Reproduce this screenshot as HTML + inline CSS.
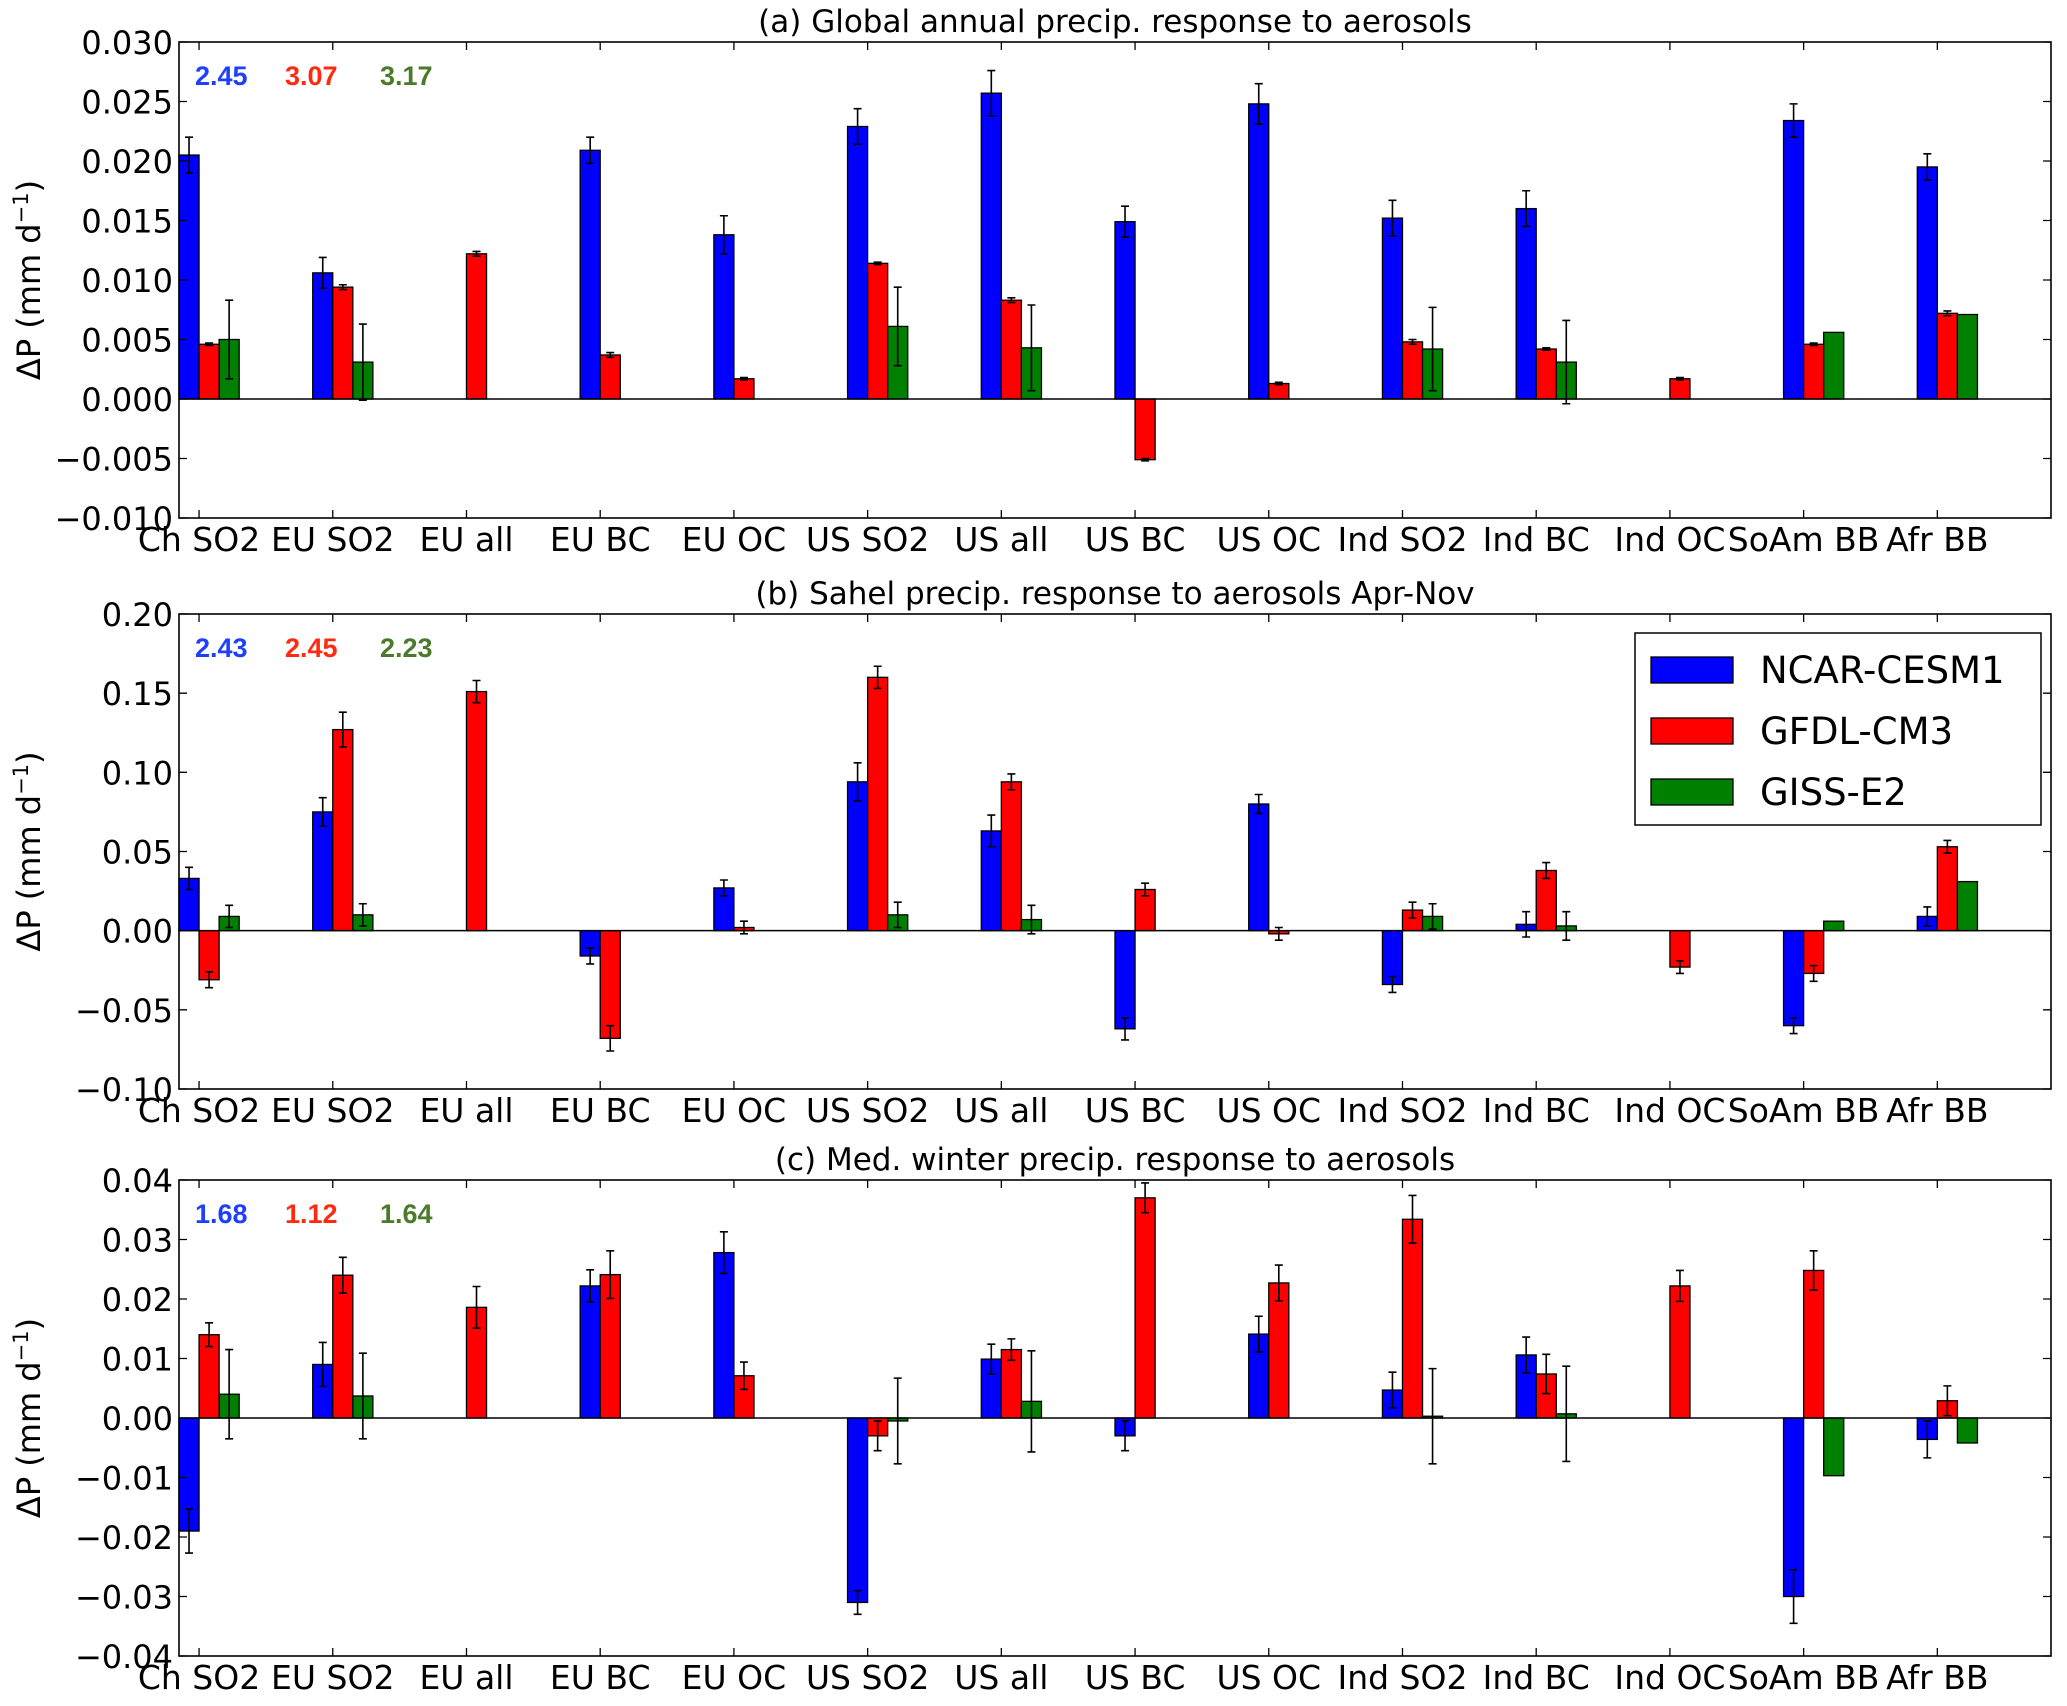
<!DOCTYPE html>
<html><head><meta charset="utf-8"><style>
html,body{margin:0;padding:0;background:#fff;}
svg{display:block;font-family:"DejaVu Sans","Liberation Sans",sans-serif;}
</style></head><body>
<svg id="chart" width="2067" height="1706" viewBox="0 0 2067 1706" xmlns="http://www.w3.org/2000/svg"></svg>
<script>
const categories = ["Ch SO2","EU SO2","EU all","EU BC","EU OC","US SO2","US all","US BC","US OC","Ind SO2","Ind BC","Ind OC","SoAm BB","Afr BB"];
const seriesNames = ["NCAR-CESM1","GFDL-CM3","GISS-E2"];
// Panel (a)
const aBlue  = [0.0205,0.0106,null,0.0209,0.0138,0.0229,0.0257,0.0149,0.0248,0.0152,0.0160,null,0.0234,0.0195];
const aBlueE = [0.0015,0.0013,null,0.0011,0.0016,0.0015,0.0019,0.0013,0.0017,0.0015,0.0015,null,0.0014,0.0011];
const aRed   = [0.0046,0.0094,0.0122,0.0037,0.0017,0.0114,0.0083,-0.0051,0.0013,0.0048,0.0042,0.0017,0.0046,0.0072];
const aRedE  = [0.0001,0.0002,0.0002,0.0002,0.0001,0.0001,0.0002,0.0001,0.0001,0.0002,0.0001,0.0001,0.0001,0.0002];
const aGreen = [0.0050,0.0031,null,null,null,0.0061,0.0043,null,null,0.0042,0.0031,null,0.0056,0.0071];
const aGreenE= [0.0033,0.0032,null,null,null,0.0033,0.0036,null,null,0.0035,0.0035,null,0,0];
const aTicks = ["0.030","0.025","0.020","0.015","0.010","0.005","0.000","\u22120.005","\u22120.010"];
const aTickVals = [0.030,0.025,0.020,0.015,0.010,0.005,0,-0.005,-0.010];
const aNotes = ["2.45","3.07","3.17"];
// Panel (b)
const bBlue  = [0.033,0.075,null,-0.016,0.027,0.094,0.063,-0.062,0.080,-0.034,0.004,null,-0.060,0.009];
const bBlueE = [0.007,0.009,null,0.005,0.005,0.012,0.010,0.007,0.006,0.005,0.008,null,0.005,0.006];
const bRed   = [-0.031,0.127,0.151,-0.068,0.002,0.160,0.094,0.026,-0.002,0.013,0.038,-0.023,-0.027,0.053];
const bRedE  = [0.005,0.011,0.007,0.008,0.004,0.007,0.005,0.004,0.004,0.005,0.005,0.004,0.005,0.004];
const bGreen = [0.009,0.010,null,null,null,0.010,0.007,null,null,0.009,0.003,null,0.006,0.031];
const bGreenE= [0.007,0.007,null,null,null,0.008,0.009,null,null,0.008,0.009,null,0,0];
const bTicks = ["0.20","0.15","0.10","0.05","0.00","\u22120.05","\u22120.10"];
const bTickVals = [0.20,0.15,0.10,0.05,0,-0.05,-0.10];
const bNotes = ["2.43","2.45","2.23"];
// Panel (c)
const cBlue  = [-0.019,0.009,null,0.0222,0.0278,-0.031,0.0099,-0.003,0.0141,0.0047,0.0106,null,-0.030,-0.0036];
const cBlueE = [0.0037,0.0037,null,0.0027,0.0035,0.002,0.0025,0.0025,0.003,0.003,0.003,null,0.0045,0.0031];
const cRed   = [0.014,0.024,0.0186,0.0241,0.0071,-0.003,0.0115,0.037,0.0227,0.0334,0.0074,0.0222,0.0248,0.0029];
const cRedE  = [0.002,0.003,0.0035,0.004,0.0023,0.0025,0.0018,0.0025,0.003,0.004,0.0033,0.0026,0.0033,0.0025];
const cGreen = [0.004,0.0037,null,null,null,-0.0005,0.0028,null,null,0.0003,0.0007,null,-0.0097,-0.0042];
const cGreenE= [0.0075,0.0072,null,null,null,0.0072,0.0085,null,null,0.008,0.008,null,0,0];
const cTicks = ["0.04","0.03","0.02","0.01","0.00","\u22120.01","\u22120.02","\u22120.03","\u22120.04"];
const cTickVals = [0.04,0.03,0.02,0.01,0,-0.01,-0.02,-0.03,-0.04];
const cNotes = ["1.68","1.12","1.64"];

const NS="http://www.w3.org/2000/svg";
const svg=document.getElementById('chart');
const colors=["#0000ff","#ff0000","#008000"];
const noteColors=["#1f3fff","#ff2a10","#4b7a2b"];
const L=179,R=2051,xmin=-0.15,xmax=13.85,bw=0.15;
function X(v){return L+(v-xmin)/(xmax-xmin)*(R-L);}
function el(tag,attrs,parent){const e=document.createElementNS(NS,tag);for(const k in attrs)e.setAttribute(k,attrs[k]);(parent||svg).appendChild(e);return e;}

function panel(id,title,top,bot,ymax,ymin,tickLabels,tickVals,notes,vals,errs){
  const g=el('g',{});
  
  
  const Y=v=>top+(ymax-v)/(ymax-ymin)*(bot-top);
  const t=el('text',{x:(L+R)/2,y:top-10,'text-anchor':'middle','font-size':31},g);
  t.textContent=title;
  
  
  for(let s=0;s<3;s++){
    for(let i=0;i<categories.length;i++){
      const v=vals[s][i]; if(v===null) continue;
      const x0=X(i-bw+s*bw), x1=X(i+s*bw);
      const y0=Y(Math.max(v,0)), y1=Y(Math.min(v,0));
      const r=el('rect',{x:x0,y:y0,width:x1-x0,height:Math.max(y1-y0,0.5),fill:colors[s],stroke:'#000','stroke-width':1.3},g);
      
      
      const e=errs[s][i];
      if(e){
        const cx=(x0+x1)/2, ya=Y(v+e), yb=Y(v-e);
        const eb=el('path',{d:`M${cx},${ya}V${yb}M${cx-4},${ya}H${cx+4}M${cx-4},${yb}H${cx+4}`,stroke:'#000','stroke-width':1.6,fill:'none'},g);
        
        
      }
    }
  }
  el('line',{x1:L,x2:R,y1:Y(0),y2:Y(0),stroke:'#000','stroke-width':1.5},g);
  const f=el('rect',{x:L,y:top,width:R-L,height:bot-top,fill:'none',stroke:'#000','stroke-width':1.6},g);
  
  
  for(let k=0;k<tickVals.length;k++){
    const y=Y(tickVals[k]);
    el('path',{d:`M${L},${y}h8M${R},${y}h-8`,stroke:'#000','stroke-width':1.3},g);
    const tl=el('text',{x:L-6,y:y+12,'text-anchor':'end','font-size':32},g);
    tl.textContent=tickLabels[k];
    
    
  }
  for(let i=0;i<categories.length;i++){
    const x=X(i);
    el('path',{d:`M${x},${bot}v-8M${x},${top}v8`,stroke:'#000','stroke-width':1.3},g);
    const xl=el('text',{x:x,y:bot+33,'text-anchor':'middle','font-size':33},g);
    xl.textContent=categories[i];
    
    
  }
  const cy=(top+bot)/2;
  const yl=el('text',{x:0,y:0,'text-anchor':'middle','font-size':32,transform:`translate(40,${cy}) rotate(-90)`},g);
  yl.innerHTML='\u0394P (mm d<tspan font-size="21" dy="-12">\u22121</tspan><tspan dy="12">)</tspan>';
  
  
  const nx=[195,285,380];
  for(let s=0;s<3;s++){
    const n=el('text',{x:nx[s],y:top+43,'font-size':27,'font-weight':'bold','font-family':'Liberation Sans, sans-serif',fill:noteColors[s]},g);
    n.textContent=notes[s];
    
    
  }
}
panel('a','(a) Global annual precip. response to aerosols',42,518,0.030,-0.010,aTicks,aTickVals,aNotes,[aBlue,aRed,aGreen],[aBlueE,aRedE,aGreenE]);
panel('b','(b) Sahel precip. response to aerosols Apr-Nov',614,1089,0.20,-0.10,bTicks,bTickVals,bNotes,[bBlue,bRed,bGreen],[bBlueE,bRedE,bGreenE]);
panel('c','(c) Med. winter precip. response to aerosols',1180,1656,0.04,-0.04,cTicks,cTickVals,cNotes,[cBlue,cRed,cGreen],[cBlueE,cRedE,cGreenE]);

const lg=el('g',{});


el('rect',{x:1635,y:633,width:406,height:192,fill:'#fff',stroke:'#000','stroke-width':1.5},lg);
for(let s=0;s<3;s++){
  const yy=670+s*61;
  const p=el('rect',{x:1651,y:yy-13,width:82,height:26,fill:colors[s],stroke:'#000','stroke-width':1.3},lg);
  
  
  const lt=el('text',{x:1760,y:yy+13,'font-size':37},lg);
  lt.textContent=seriesNames[s];
  
  
}
</script>
</body></html>
